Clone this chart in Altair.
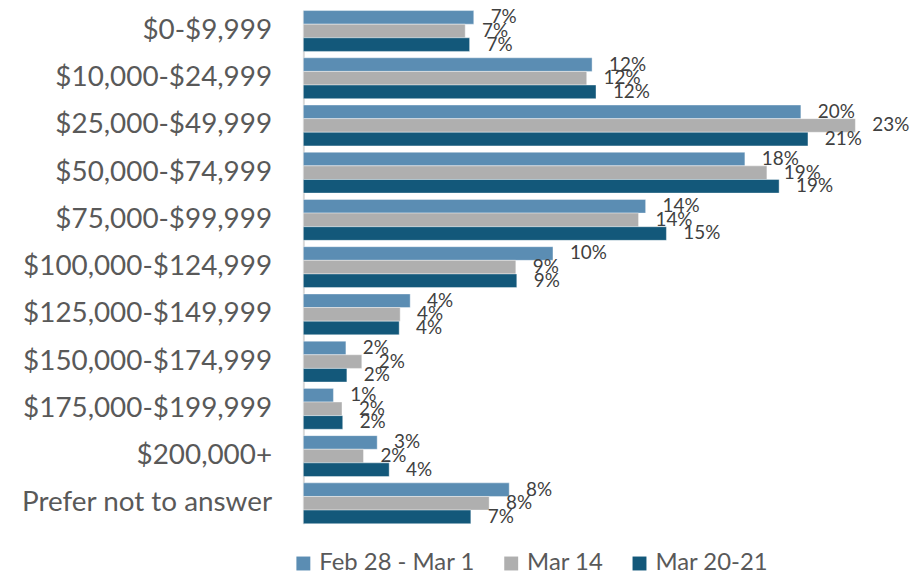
import altair as alt
import pandas as pd

categories = [
    "$0-$9,999", "$10,000-$24,999", "$25,000-$49,999", "$50,000-$74,999",
    "$75,000-$99,999", "$100,000-$124,999", "$125,000-$149,999",
    "$150,000-$174,999", "$175,000-$199,999", "$200,000+", "Prefer not to answer",
]
series = ["Feb 28 - Mar 1", "Mar 14", "Mar 20-21"]
feb = [6.97, 11.81, 20.35, 18.06, 14.00, 10.21, 4.37, 1.74, 1.23, 3.02, 8.42]
mar14 = [6.62, 11.59, 22.58, 18.96, 13.71, 8.69, 3.96, 2.39, 1.58, 2.46, 7.60]
mar20 = [6.80, 11.97, 20.64, 19.46, 14.85, 8.73, 3.92, 1.78, 1.61, 3.51, 6.85]
lab_feb = ["7%", "12%", "20%", "18%", "14%", "10%", "4%", "2%", "1%", "3%", "8%"]
lab_mar14 = ["7%", "12%", "23%", "19%", "14%", "9%", "4%", "2%", "2%", "2%", "8%"]
lab_mar20 = ["7%", "12%", "21%", "19%", "15%", "9%", "4%", "2%", "2%", "4%", "7%"]
colors = ["#5B8DB3", "#AFAFAF", "#13587A"]

rows = []
for s, vals, labs in zip(series, [feb, mar14, mar20], [lab_feb, lab_mar14, lab_mar20]):
    for c, v, l in zip(categories, vals, labs):
        rows.append({"category": c, "series": s, "value": v, "label": l})
df = pd.DataFrame(rows)

y_enc = alt.Y("category:N", sort=categories, title=None,
              scale=alt.Scale(paddingInner=0.135, paddingOuter=0),
              axis=alt.Axis(labelFont="Lato", labelFontSize=28, labelColor="#595959",
                            labelPadding=32, ticks=False, domainColor="#D9D9D9",
                            domainWidth=2, grid=False, labelLimit=400))
yoff = alt.YOffset("series:N", sort=series, scale=alt.Scale(paddingInner=0, paddingOuter=0))
x_enc = alt.X("value:Q", scale=alt.Scale(domain=[0, 24], nice=False, zero=True), axis=None)

bars = alt.Chart(df).mark_bar(stroke="white", strokeWidth=0.4).encode(
    y=y_enc, yOffset=yoff, x=x_enc,
    color=alt.Color("series:N", sort=series, title=None,
                    scale=alt.Scale(domain=series, range=colors),
                    legend=alt.Legend(orient="none", legendX=-12, legendY=544,
                                      direction="horizontal", symbolType="square",
                                      symbolSize=196, symbolStrokeWidth=0,
                                      labelFont="Lato", labelFontSize=24,
                                      labelColor="#595959", symbolOffset=0,
                                      labelOffset=4, columnPadding=24, padding=0)),
)

texts = alt.Chart(df).mark_text(align="left", baseline="middle", dx=17,
                                font="Lato", fontSize=19, color="#404040").encode(
    y=alt.Y("category:N", sort=categories), yOffset=yoff, x=x_enc, text="label:N",
)

chart = alt.layer(bars, texts).properties(
    width=590, height=516, padding={"left": 12, "top": -2, "right": 0, "bottom": 0}
).configure_view(stroke=None)

chart.save("out.html", embed_options={"renderer": "svg", "actions": False})
